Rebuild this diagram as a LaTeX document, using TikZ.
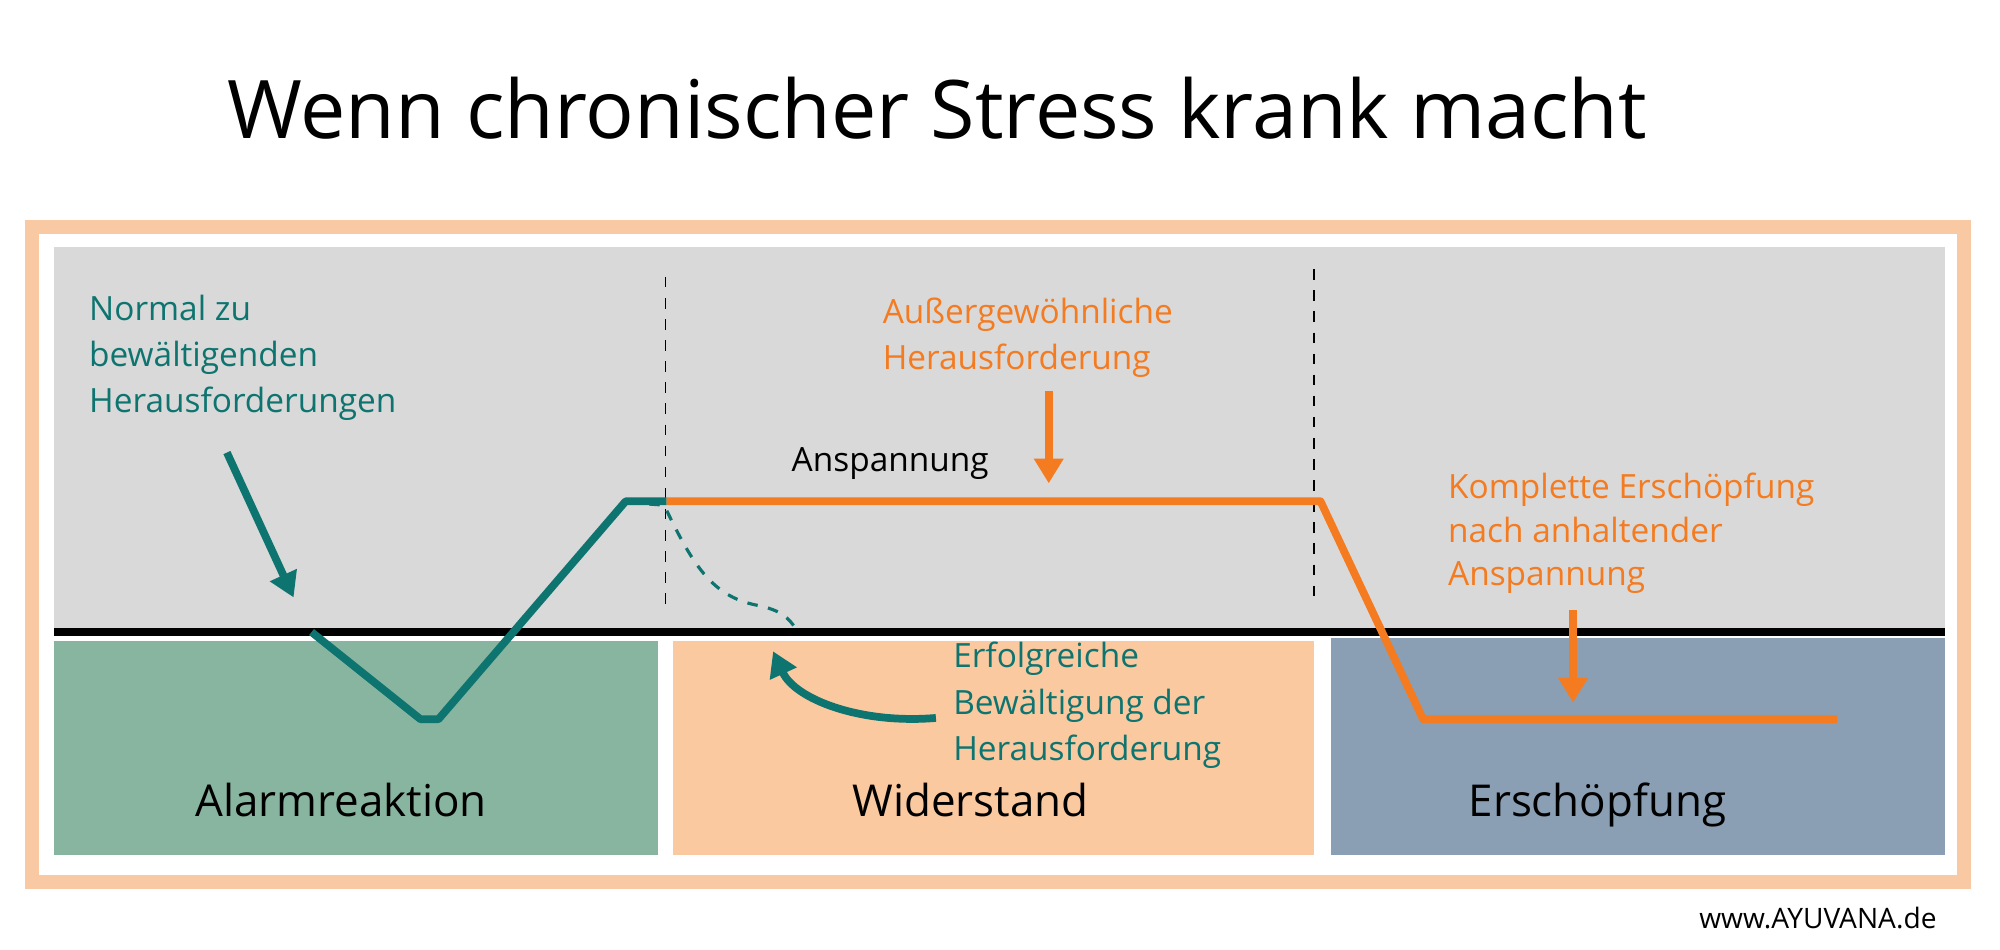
\documentclass[tikz,border=0pt]{standalone}
\usepackage{fontspec}
\setmainfont{Open Sans}
\usetikzlibrary{arrows.meta}
\definecolor{teal1}{HTML}{0E7470}
\definecolor{orng}{HTML}{F47B20}
\definecolor{peach}{HTML}{F8C9A3}
\definecolor{grayb}{HTML}{D9D9D9}
\definecolor{greenb}{HTML}{88B5A0}
\definecolor{peachb}{HTML}{FAC9A0}
\definecolor{blueb}{HTML}{8A9FB4}
\begin{document}
\begin{tikzpicture}[x=0.012821cm,y=-0.012821cm,
  lbl/.style={anchor=base west,font=\fontsize{9.5pt}{12pt}\selectfont,inner sep=0pt},
  box/.style={font=\fontsize{12.5pt}{14pt}\selectfont,inner sep=0pt,anchor=base},
  arr/.style={line width=2.2pt,-{Triangle[length=7pt,width=8pt]}}]
\useasboundingbox (0,0) rectangle (1560,741);
\fill[white] (0,0) rectangle (1560,741);
\node[font=\fontsize{23pt}{26pt}\selectfont,anchor=base,inner sep=0pt] (title) at (731,108) {Wenn chronischer Stress krank macht};
\draw[peach,line width=4pt] (25,177) rectangle (1532,688);
\fill[grayb] (42,193) rectangle (1517,493);
\fill[greenb] (42,500) rectangle (513,667);
\fill[peachb] (525,500) rectangle (1025,667);
\fill[blueb] (1038,498) rectangle (1517,667);
\draw[line width=2.5pt] (42,493) -- (1517,493);
\draw[dashed,line width=0.5pt] (519,216) -- (519,477);
\draw[dashed,line width=0.5pt] (1025,210) -- (1025,470);
\node[box] (a) at (266,637) {Alarmreaktion};
\node[box] (w) at (757,637) {Widerstand};
\node[box] (e) at (1246,637) {Erschöpfung};
% curves
\draw[teal1,dashed,line width=0.9pt] (490,392) -- (518,394) .. controls (540,440) and (555,465) .. (590,472) .. controls (610,476) and (615,482) .. (622,492);
\draw[teal1,line width=2.2pt,line join=round] (243,493) -- (328,561) -- (342,561) -- (488,391) -- (520,391);
\draw[orng,line width=2.2pt,line join=round] (520,391) -- (1030,391) -- (1110,561) -- (1433,561);
% labels
\node[lbl,text=teal1] (n1) at (69,250) {Normal zu};
\node[lbl,text=teal1] (n2) at (69,286) {bewältigenden};
\node[lbl,text=teal1] (n3) at (69,322) {Herausforderungen};
\node[lbl,text=orng] (o1) at (688,252) {Außergewöhnliche};
\node[lbl,text=orng] (o2) at (688,288) {Herausforderung};
\node[lbl] (an) at (617,368) {Anspannung};
\node[lbl,text=orng] (k1) at (1129,389) {Komplette Erschöpfung};
\node[lbl,text=orng] (k2) at (1129,423) {nach anhaltender};
\node[lbl,text=orng] (k3) at (1129,457) {Anspannung};
\node[lbl,text=teal1] (s1) at (743,521) {Erfolgreiche};
\node[lbl,text=teal1] (s2) at (743,557) {Bewältigung der};
\node[lbl,text=teal1] (s3) at (743,593) {Herausforderung};
\node[anchor=base east,inner sep=0pt,font=\fontsize{8pt}{10pt}\selectfont] (web) at (1511,724) {www.AYUVANA.de};
% arrows
\coordinate (t1) at (177,353); \coordinate (t2) at (229,466);
\draw[arr,teal1] (t1) -- (t2);
\coordinate (o3) at (818,305); \coordinate (o4) at (818,377);
\draw[arr,orng] (o3) -- (o4);
\coordinate (k4) at (1227,476); \coordinate (k5) at (1227,548);
\draw[arr,orng] (k4) -- (k5);
\coordinate (c1) at (730,560); \coordinate (c2) at (603,508);
\draw[arr,teal1] (c1) .. controls (670,565) and (620,545) .. (c2);
\end{tikzpicture}
\end{document}
